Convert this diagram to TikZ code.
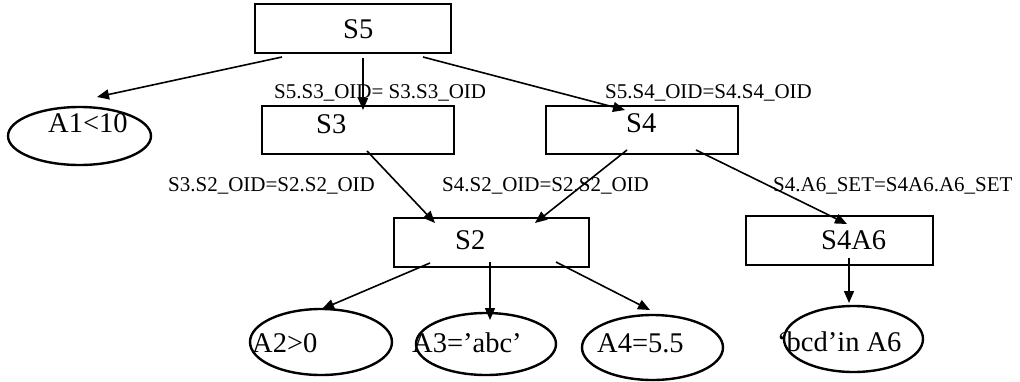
\documentclass[tikz,border=0pt]{standalone}
\usepackage{fontspec}
\setmainfont{Liberation Serif}
\usetikzlibrary{shapes.geometric,arrows.meta,calc}
\begin{document}
\begin{tikzpicture}[x=1pt,y=-1pt,
  box/.style={draw,line width=2.4pt,rectangle,inner sep=0pt},
  oval/.style={draw,line width=2.4pt,ellipse,inner sep=0pt},
  big/.style={inner sep=0pt,anchor=base west,font=\fontsize{28.5}{30}\selectfont},
  lab/.style={inner sep=0pt,anchor=base west,font=\fontsize{21}{23}\selectfont},
  arr/.style={line width=1.6pt,-{Triangle[length=12pt,width=10pt]}}]
\useasboundingbox (0,0) rectangle (1020,381);
% boxes
\node[box,minimum width=196pt,minimum height=49pt] (S5) at (353,28.5) {};
\node[box,minimum width=192pt,minimum height=48pt] (S3) at (358,130) {};
\node[box,minimum width=192pt,minimum height=48pt] (S4) at (642,130) {};
\node[box,minimum width=195pt,minimum height=49pt] (S2) at (491.5,242.5) {};
\node[box,minimum width=187pt,minimum height=49pt] (S4A6) at (839.5,240.5) {};
% ellipses
\node[oval,minimum width=143pt,minimum height=58pt] (A1) at (79.5,136) {};
\node[oval,minimum width=142pt,minimum height=66pt] (A2) at (321,342) {};
\node[oval,minimum width=140pt,minimum height=62pt] (A3) at (486,344) {};
\node[oval,minimum width=141pt,minimum height=65pt] (A4) at (652.5,347.5) {};
\node[oval,minimum width=139pt,minimum height=66pt] (A6) at (853.5,339) {};
% texts
\node[big] (tS5) at (343,38) {S5};
\node[big] (tS3) at (316,133) {S3};
\node[big] (tS4) at (626,132) {S4};
\node[big] (tS2) at (455,249) {S2};
\node[big] (tS4A6) at (821,249) {S4A6};
\node[big] (tA1) at (48,132) {A1<10};
\node[big] (tA2) at (252,352) {A2>0};
\node[big] (tA3) at (412,352) {A3=’abc’};
\node[big] (tA4) at (597,352) {A4=5.5};
\node[big] (tA6) at (777,351) {‘bcd’in A6};
% labels
\node[lab] (l1) at (274,98) {S5.S3\_OID= S3.S3\_OID};
\node[lab] (l2) at (605,98) {S5.S4\_OID=S4.S4\_OID};
\node[lab] (l3) at (168,191) {S3.S2\_OID=S2.S2\_OID};
\node[lab] (l4) at (442,191) {S4.S2\_OID=S2.S2\_OID};
\node[lab] (l5) at (773,191) {S4.A6\_SET=S4A6.A6\_SET};
% arrows
\draw[arr] ($(S5.center)+(-71,28.5)$) -- ($(A1.center)+(17.5,-39)$);
\draw[arr] ($(S5.center)+(10,29.5)$) -- ($(S3.center)+(5,-20)$);
\draw[arr] ($(S5.center)+(70,28.5)$) -- ($(S4.center)+(-17,-20)$);
\draw[arr] ($(S3.center)+(9,21)$) -- ($(S2.center)+(-56.5,-19.5)$);
\draw[arr] ($(S4.center)+(-15,20)$) -- ($(S2.center)+(43.5,-19.5)$);
\draw[arr] ($(S4.center)+(54,20)$) -- ($(S4A6.center)+(7.5,-16.5)$);
\draw[arr] ($(S2.center)+(-61.5,20.5)$) -- ($(A2.center)+(1,-33)$);
\draw[arr] ($(S2.center)+(-1.5,19.5)$) -- ($(A3.center)+(4,-24)$);
\draw[arr] ($(S2.center)+(64.5,19.5)$) -- ($(A4.center)+(-2.5,-37.5)$);
\draw[arr] ($(S4A6.center)+(9.5,17.5)$) -- ($(A6.center)+(-4.5,-36)$);
\end{tikzpicture}
\end{document}
